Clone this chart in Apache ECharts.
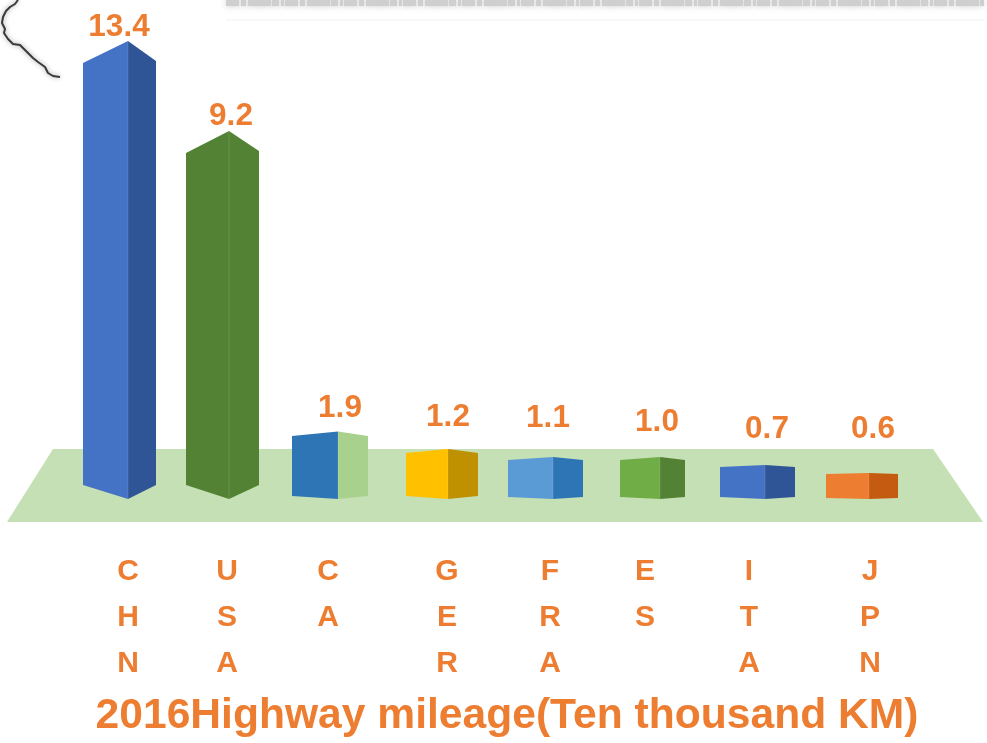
<!DOCTYPE html>
<html>
<head>
<meta charset="utf-8">
<style>html,body{margin:0;padding:0;background:#fff}#c{width:987px;height:743px}</style>
<script src="https://cdn.jsdelivr.net/npm/echarts@6/dist/echarts.min.js"></script>
</head>
<body>
<div id="c"></div>
<script>
// ---- data ----
const categories = ['CHN', 'USA', 'CA', 'GER', 'FRA', 'ES', 'ITA', 'JPN'];
const labelValues = ['13.4', '9.2', '1.9', '1.2', '1.1', '1.0', '0.7', '0.6'];
// The picture's bars are not proportional to their labels: these are the drawn heights as read off it.
const drawnHeights = [458, 368, 67.5, 50, 42, 42, 34, 26];
const titleText = '2016Highway mileage(Ten thousand KM)';

// ---- styling / layout ----
const ORANGE = '#ed7d31';
const frontColors = ['#4472c4', '#548235', '#2e75b6', '#ffc000', '#5b9bd5', '#70ad47', '#4472c4', '#ed7d31'];
const sideColors  = ['#2f5597', '#548235', '#a9d18e', '#bf9000', '#2e75b6', '#548235', '#2f5597', '#c55a11'];
const barNudge   = [0, -5, -2, 2, 1, 2, 1, -1];
const leftWidth  = [45, 43, 46, 42, 45, 40, 45, 43];
const rightWidth = [28, 30, 30, 30, 30, 25, 30, 29];
const topDropL   = [22, 22, 4.5, 4, 3, 3, 2, 1];
const topDropR   = [20, 20, 4.5, 4, 3, 3, 2, 1];
const botRise    = [14, 14, 3, 3, 2, 2, 2, 1];
const labelLift  = [14, 15, 23, 32, 39, 35, 36, 44];
const labelNudge = [-9, 2, 2, 0, -5, -3, 2, 4];
const tickShift  = [0, -7, -12, 1, -2, -13, -15, 0];

const chart = echarts.init(document.getElementById('c'), null, { renderer: 'canvas' });

const rich = {};
tickShift.forEach(function (s, i) {
  rich['n' + i] = {
    fontFamily: 'Liberation Sans', fontWeight: 'bold', fontSize: 30, color: ORANGE, lineHeight: 46,
    padding: s < 0 ? [0, -2 * s, 0, 0] : [0, 0, 0, 2 * s]
  };
});

function renderBar(params, api) {
  const i = api.value(0);
  const top = api.coord([i, api.value(1)]);
  const base = api.coord([i, 0]);
  const x = top[0] + barNudge[i];
  const l = x - leftWidth[i], r = x + rightWidth[i];
  const yt = top[1], yb = base[1];
  return {
    type: 'group',
    children: [
      { type: 'polygon', shape: { points: [[l, yt + topDropL[i]], [x, yt], [x, yb], [l, yb - botRise[i]]] },
        style: { fill: frontColors[i] } },
      { type: 'polygon', shape: { points: [[x, yt], [r, yt + topDropR[i]], [r, yb - botRise[i]], [x, yb]] },
        style: { fill: sideColors[i] } },
      { type: 'line', shape: { x1: x, y1: yt, x2: x, y2: yb },
        style: { stroke: 'rgba(255,255,255,0.12)', lineWidth: 1 } },
      { type: 'text', style: {
          x: x + labelNudge[i], y: yt - labelLift[i], text: labelValues[i],
          fill: ORANGE, fontFamily: 'Liberation Sans', fontWeight: 'bold', fontSize: 31.5,
          align: 'center', verticalAlign: 'middle' } }
    ]
  };
}

chart.setOption({
  animation: false,
  backgroundColor: '#fff',
  title: {
    text: titleText, left: 502, top: 690, textAlign: 'center',
    textStyle: { color: ORANGE, fontFamily: 'Liberation Sans', fontWeight: 'bold', fontSize: 42.6 }
  },
  grid: { left: 75, width: 848, top: 0, height: 499 },
  xAxis: {
    type: 'category', data: categories,
    axisLine: { show: false }, axisTick: { show: false },
    axisLabel: {
      interval: 0, margin: 50, hideOverlap: false, verticalAlign: 'top',
      formatter: function (v, i) {
        return v.split('').map(function (c) { return '{n' + i + '|' + c + '}'; }).join('\n');
      },
      rich: rich
    }
  },
  yAxis: { type: 'value', min: 0, max: 499, show: false },
  graphic: [
    { type: 'polygon', z: 0, shape: { points: [[53, 449], [933, 449], [983, 522], [7, 522]] },
      style: { fill: '#c5e0b4' } },
    { type: 'polyline', z: 0,
      shape: { points: [[18, 0], [15, 4], [10, 7], [6, 11], [3, 17], [2, 23], [5, 29], [4, 33], [8, 39], [13, 44], [20, 45], [26, 51], [33, 58], [38, 62], [45, 67], [48, 73], [53, 76], [60, 77]] },
      style: { stroke: '#3a3a3a', lineWidth: 2, fill: 'none', lineJoin: 'round', shadowBlur: 5, shadowColor: 'rgba(0,0,0,0.4)' } },
    { type: 'line', z: 0, shape: { x1: 226, y1: 3, x2: 984, y2: 3 },
      style: { stroke: '#cfcfcf', lineWidth: 6, lineDash: [13, 2, 5, 2, 23, 1, 7, 2, 3, 1], shadowBlur: 6, shadowColor: 'rgba(190,190,190,0.8)' } },
    { type: 'rect', z: 0, shape: { x: 226, y: 19, width: 758, height: 2 },
      style: { fill: '#f9f9f9' } }
  ],
  series: [{
    type: 'custom', renderItem: renderBar, clip: false, z: 2,
    data: categories.map(function (c, i) { return [i, drawnHeights[i]]; }),
    encode: { x: 0, y: 1 }
  }]
});
</script>
</body>
</html>
